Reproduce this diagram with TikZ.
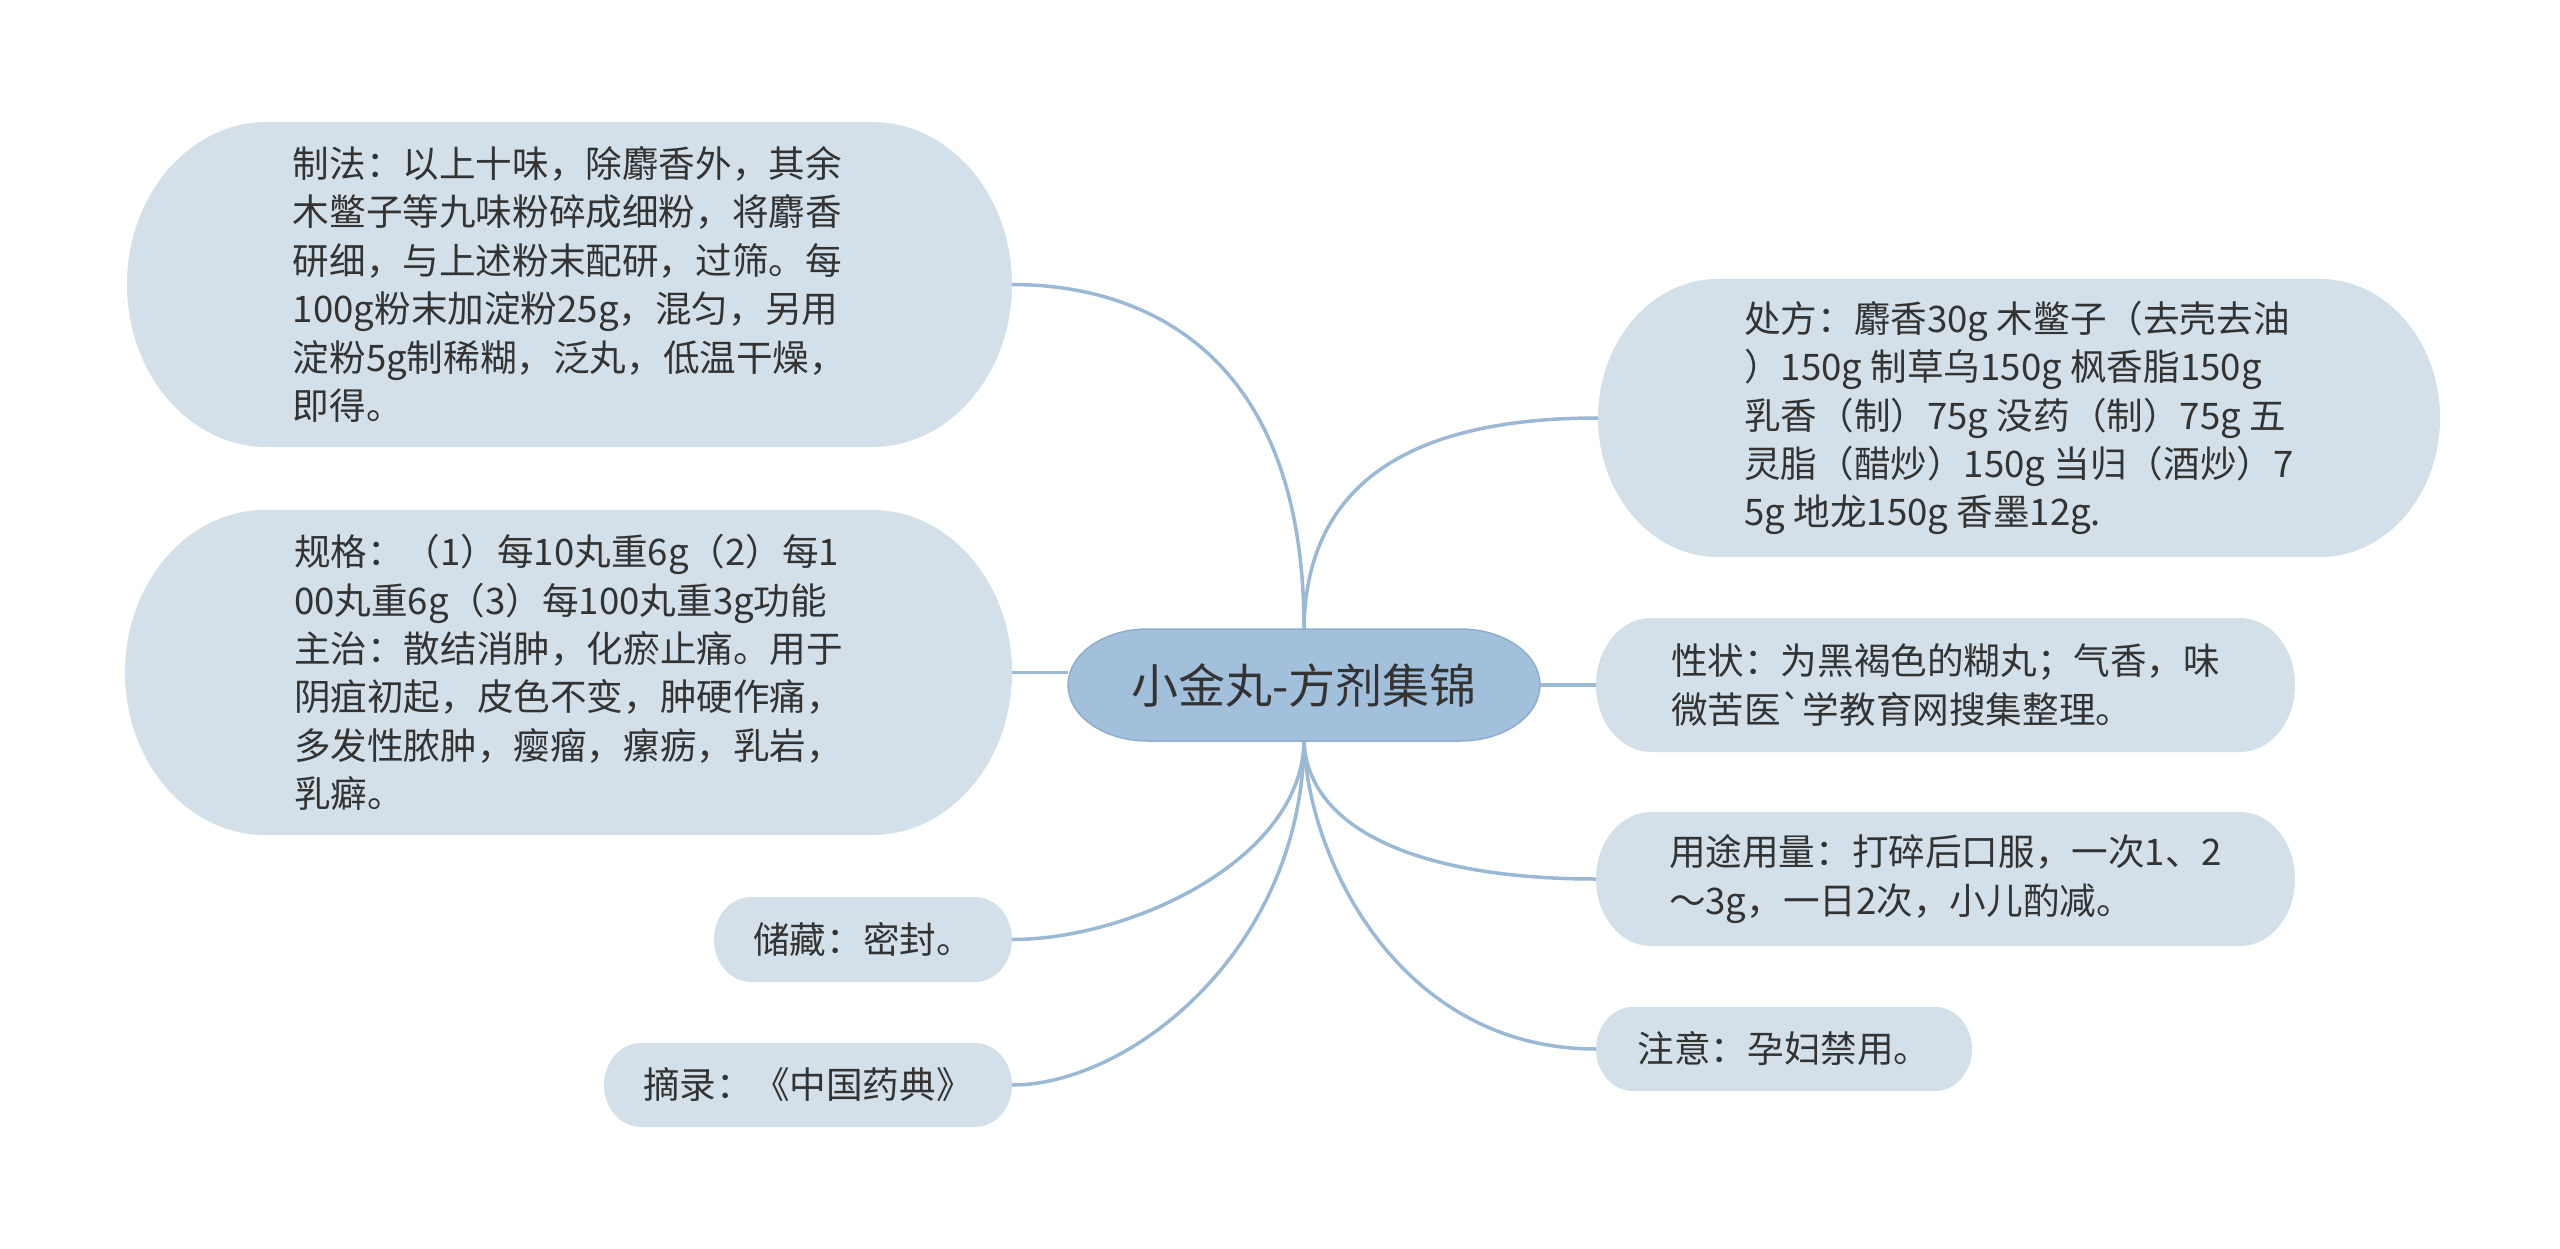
\documentclass[tikz,border=0pt]{standalone}
\usepackage{fontspec}
\setmainfont{Noto Sans CJK SC}[Ligatures=TeXOff]
\usetikzlibrary{calc}
\definecolor{leaffill}{HTML}{D3E0E9}
\definecolor{rootfill}{HTML}{A2BFDB}
\definecolor{rootline}{HTML}{8FAECD}
\definecolor{linkcol}{HTML}{9BB9D5}
\definecolor{txt}{HTML}{333333}
% name, cx, cy, w, h, rx, bg style, node style, text
\newcommand\pill[9]{%
 \pgfmathsetmacro\pw{#4/2}\pgfmathsetmacro\ph{#5/2}%
 \pgfmathsetmacro\kx{#6*0.5523}\pgfmathsetmacro\ky{\ph*0.5523}%
 \fill[#7] ({#2-\pw+#6},{#3-\ph}) -- ({#2+\pw-#6},{#3-\ph})
   .. controls ({#2+\pw-#6+\kx},{#3-\ph}) and ({#2+\pw},{#3-\ky}) .. ({#2+\pw},#3)
   .. controls ({#2+\pw},{#3+\ky}) and ({#2+\pw-#6+\kx},{#3+\ph}) .. ({#2+\pw-#6},{#3+\ph})
   -- ({#2-\pw+#6},{#3+\ph})
   .. controls ({#2-\pw+#6-\kx},{#3+\ph}) and ({#2-\pw},{#3+\ky}) .. ({#2-\pw},#3)
   .. controls ({#2-\pw},{#3-\ky}) and ({#2-\pw+#6-\kx},{#3-\ph}) .. cycle;
 \node[#8, minimum width=#4pt, minimum height=#5pt] (#1) at (#2,#3) {#9};
}
\begin{document}
\begin{tikzpicture}[x=1pt,y=-1pt,
  leafbox/.style={rectangle, inner sep=0pt, align=left, text=txt, font=\fontsize{36.6}{48.4}\selectfont},
  rootbox/.style={rectangle, inner sep=0pt, text=txt, font=\fontsize{47}{56}\selectfont},
  leafbg/.style={fill=leaffill},
  rootbg/.style={fill=rootfill, draw=rootline, line width=1.5pt},
  link/.style={draw=linkcol, line width=3.5pt}]
\fill[white] (0,0) rectangle (2560,1249);
\useasboundingbox (0,0) rectangle (2560,1249);

\pill{c}{1304}{685}{472}{112}{80}{rootbg}{rootbox}{小金丸-方剂集锦}

\pill{zf}{569.5}{284.5}{885}{325}{140}{leafbg}{leafbox}{制法：以上十味，除麝香外，其余\\木鳖子等九味粉碎成细粉，将麝香\\研细，与上述粉末配研，过筛。每\\100g粉末加淀粉25g，混匀，另用\\淀粉5g制稀糊，泛丸，低温干燥，\\即得。}
\pill{gg}{568.5}{672.5}{887}{325}{140}{leafbg}{leafbox}{规格：（1）每10丸重6g（2）每1\\00丸重6g（3）每100丸重3g功能\\主治：散结消肿，化瘀止痛。用于\\阴疽初起，皮色不变，肿硬作痛，\\多发性脓肿，瘿瘤，瘰疬，乳岩，\\乳癖。}
\pill{cc}{863}{939.5}{298}{85}{37}{leafbg}{leafbox}{储藏：密封。}
\pill{zl}{808}{1085}{408}{84}{37}{leafbg}{leafbox}{摘录：《中国药典》}

\pill{cf}{2019}{418}{842}{278}{120}{leafbg}{leafbox}{处方：麝香30g 木鳖子（去壳去油\\）150g 制草乌150g 枫香脂150g\\乳香（制）75g 没药（制）75g 五\\灵脂（醋炒）150g 当归（酒炒）7\\5g 地龙150g 香墨12g.}
\pill{xz}{1945.5}{685}{699}{134}{55}{leafbg}{leafbox}{性状：为黑褐色的糊丸；气香，味\\微苦医`学教育网搜集整理。}
\pill{yt}{1945.5}{879}{699}{134}{55}{leafbg}{leafbox}{用途用量：打碎后口服，一次1、2\\～3g，一日2次，小儿酌减。}
\pill{zy}{1784}{1049}{376}{84}{37}{leafbg}{leafbox}{注意：孕妇禁用。}

% connectors
\draw[link] (c.north) .. controls (1304,340) and (1130,284.5) .. (zf.east);
\draw[link] (c.north) .. controls (1306,470) and (1430,418) .. (cf.west);
\draw[link] (gg.east) -- (gg.east -| c.west);
\draw[link] (c.east) -- (xz.west);
\draw[link] (c.south) .. controls (1302,860) and (1130,939.5) .. (cc.east);
\draw[link] (c.south) .. controls (1302,950) and (1130,1085) .. (zl.east);
\draw[link] (c.south) .. controls (1308,830) and (1420,879) .. (yt.west);
\draw[link] (c.south) .. controls (1308,860) and (1400,1049) .. (zy.west);
\end{tikzpicture}
\end{document}
